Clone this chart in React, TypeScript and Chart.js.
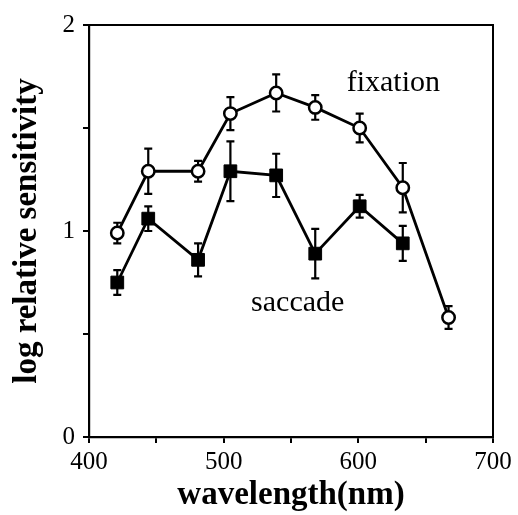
import React, { useEffect, useRef } from "react";
import { Chart, registerables } from "chart.js";

Chart.register(...registerables);

const fixationWavelengths = [421, 444, 481, 505, 539, 568, 601, 633, 667];
const fixationValues = [0.99, 1.29, 1.29, 1.57, 1.67, 1.6, 1.5, 1.21, 0.58];
const fixationErrors = [0.05, 0.11, 0.05, 0.08, 0.09, 0.06, 0.07, 0.12, 0.055];

const saccadeWavelengths = [421, 444, 481, 505, 539, 568, 601, 633];
const saccadeValues = [0.75, 1.06, 0.86, 1.29, 1.27, 0.89, 1.12, 0.94];
const saccadeErrors = [0.06, 0.06, 0.08, 0.145, 0.105, 0.12, 0.055, 0.085];

const xTickLabels = ["400", "500", "600", "700"];
const yTickLabels = ["0", "1", "2"];

const seriesLabels = [
  { text: "fixation", x: 626, y: 1.72 },
  { text: "saccade", x: 555, y: 0.65 },
];

const FONT = "'Liberation Serif', 'Times New Roman', serif";

const errorBarPlugin = {
  id: "errorBars",
  beforeDatasetsDraw(chart: any) {
    const ctx = chart.ctx;
    const xs = chart.scales.x;
    const ys = chart.scales.y;
    const sets = [
      { w: fixationWavelengths, v: fixationValues, e: fixationErrors },
      { w: saccadeWavelengths, v: saccadeValues, e: saccadeErrors },
    ];
    ctx.save();
    ctx.strokeStyle = "#000";
    ctx.lineWidth = 2.2;
    sets.forEach((s) => {
      s.w.forEach((wl, i) => {
        const x = xs.getPixelForValue(wl);
        const yt = ys.getPixelForValue(s.v[i] + s.e[i]);
        const yb = ys.getPixelForValue(s.v[i] - s.e[i]);
        ctx.beginPath();
        ctx.moveTo(x, yt);
        ctx.lineTo(x, yb);
        ctx.moveTo(x - 4, yt);
        ctx.lineTo(x + 4, yt);
        ctx.moveTo(x - 4, yb);
        ctx.lineTo(x + 4, yb);
        ctx.stroke();
      });
    });
    ctx.restore();
  },
};

const framePlugin = {
  id: "frameAndLabels",
  afterDraw(chart: any) {
    const ctx = chart.ctx;
    const a = chart.chartArea;
    const xs = chart.scales.x;
    const ys = chart.scales.y;
    ctx.save();
    ctx.strokeStyle = "#000";
    ctx.lineWidth = 2;
    ctx.beginPath();
    ctx.moveTo(a.left, a.top);
    ctx.lineTo(a.right, a.top);
    ctx.lineTo(a.right, a.bottom);
    ctx.stroke();
    ctx.fillStyle = "#000";
    ctx.font = `30px ${FONT}`;
    ctx.textAlign = "center";
    ctx.textBaseline = "middle";
    seriesLabels.forEach((l) => {
      ctx.fillText(l.text, xs.getPixelForValue(l.x), ys.getPixelForValue(l.y));
    });
    ctx.restore();
  },
};

export default function App() {
  const ref = useRef<HTMLCanvasElement | null>(null);
  useEffect(() => {
    if (!ref.current) return;
    const chart = new Chart(ref.current, {
      type: "scatter",
      data: {
        datasets: [
          {
            label: "fixation",
            data: fixationWavelengths.map((w, i) => ({ x: w, y: fixationValues[i] })),
            showLine: true,
            borderColor: "#000",
            borderWidth: 2.8,
            pointStyle: "circle",
            pointRadius: 6.2,
            pointBackgroundColor: "#fff",
            pointBorderColor: "#000",
            pointBorderWidth: 2.5,
          },
          {
            label: "saccade",
            data: saccadeWavelengths.map((w, i) => ({ x: w, y: saccadeValues[i] })),
            showLine: true,
            borderColor: "#000",
            borderWidth: 2.8,
            pointStyle: "rect",
            pointRadius: 9,
            pointBackgroundColor: "#000",
            pointBorderColor: "#000",
            pointBorderWidth: 1,
          },
        ],
      },
      options: {
        animation: false,
        responsive: false,
        layout: { padding: { top: 25, right: 25, left: 0, bottom: 0 } },
        plugins: { legend: { display: false }, tooltip: { enabled: false } },
        scales: {
          x: {
            type: "linear",
            min: 400,
            max: 700,
            afterFit: (s: any) => {
              s.height = 78;
            },
            ticks: {
              stepSize: 50,
              autoSkip: false,
              maxRotation: 0,
              padding: 4,
              color: "#000",
              font: { family: FONT, size: 25 },
              callback: (v: any) => {
                const s = String(v);
                return xTickLabels.includes(s) ? s : "";
              },
            },
            grid: {
              drawOnChartArea: false,
              drawTicks: true,
              tickLength: 6,
              color: "#000",
              lineWidth: 2,
            },
            border: { display: true, color: "#000", width: 2.2 },
            title: {
              display: true,
              text: "wavelength(nm)",
              color: "#000",
              font: { family: FONT, size: 33, weight: "bold" },
              padding: { top: 0, bottom: 0 },
            },
          },
          y: {
            type: "linear",
            min: 0,
            max: 2,
            afterFit: (s: any) => {
              s.width = 89;
            },
            ticks: {
              stepSize: 0.5,
              autoSkip: false,
              padding: 8,
              color: "#000",
              font: { family: FONT, size: 25 },
              callback: (v: any) => {
                const s = String(v);
                return yTickLabels.includes(s) ? s : "";
              },
            },
            grid: {
              drawOnChartArea: false,
              drawTicks: true,
              tickLength: 6,
              color: "#000",
              lineWidth: 2,
            },
            border: { display: true, color: "#000", width: 2.2 },
            title: {
              display: true,
              text: "log relative sensitivity",
              color: "#000",
              font: { family: FONT, size: 33, weight: "bold" },
              padding: { top: 8, bottom: 0 },
            },
          },
        },
      },
      plugins: [errorBarPlugin, framePlugin],
    });
    return () => chart.destroy();
  }, []);
  return (
    <div style={{ position: "absolute", left: 0, top: 0, width: 518, height: 515, background: "#fff" }}>
      <canvas ref={ref} width={518} height={515} />
    </div>
  );
}
